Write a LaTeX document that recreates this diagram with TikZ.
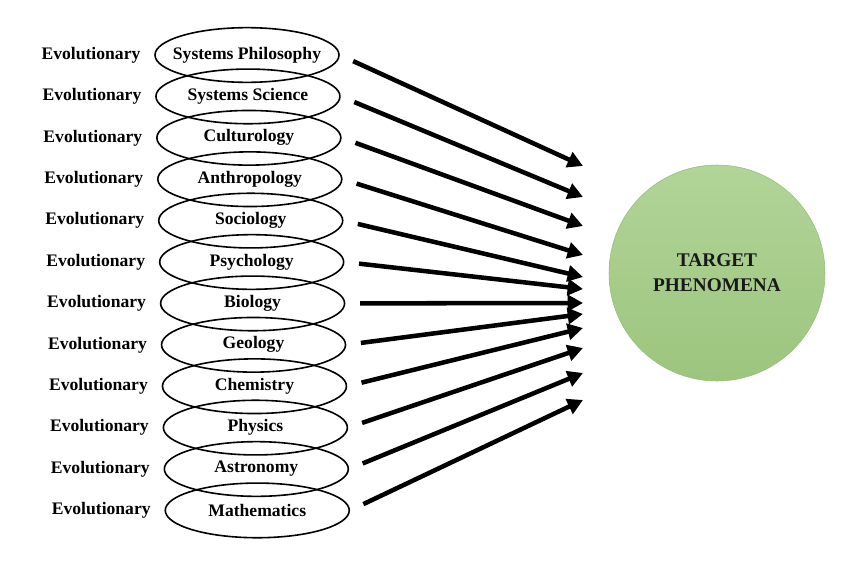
\documentclass[tikz,border=0pt]{standalone}
\usepackage{fontspec}
\setmainfont{Liberation Serif}
\usetikzlibrary{shapes.geometric,arrows.meta}
\definecolor{leaf}{RGB}{178,212,152}
\definecolor{leafdark}{RGB}{156,197,126}
\definecolor{leafline}{RGB}{150,190,120}
\tikzstyle{field}=[draw, ellipse, line width=1.2pt, minimum width=138pt, minimum height=41pt, inner xsep=-25pt, inner ysep=0pt, node distance=31.05pt]
\tikzstyle{evo}=[node distance=117pt]
\tikzstyle{target}=[circle, draw=leafline, top color=leaf, bottom color=leafdark, minimum size=162pt, align=center, text=black!90, font=\bfseries\fontsize{14.5}{18.75}\selectfont]
\tikzstyle{arr}=[->, >={Triangle[length=11.5pt,width=12pt]}, line width=3.4pt, shorten <=11pt]

\begin{document}
\begin{tikzpicture}[x=0.75pt, y=-0.75pt, font=\bfseries\fontsize{13.2}{15}\selectfont]
            \useasboundingbox (0,0) rectangle (850,564);
            \node [field] (e1) at (247,55) {Systems Philosophy};
            \node [field, below of=e1, xshift=0.7pt] (e2) {Systems Science};
            \node [field, below of=e2, xshift=0.7pt] (e3) {Culturology};
            \node [field, below of=e3, xshift=0.7pt] (e4) {Anthropology};
            \node [field, below of=e4, xshift=0.7pt] (e5) {Sociology};
            \node [field, below of=e5, xshift=0.7pt] (e6) {Psychology};
            \node [field, below of=e6, xshift=0.7pt] (e7) {Biology};
            \node [field, below of=e7, xshift=0.7pt] (e8) {Geology};
            \node [field, below of=e8, xshift=0.7pt] (e9) {Chemistry};
            \node [field, below of=e9, xshift=0.7pt] (e10) {Physics};
            \node [field, below of=e10, xshift=0.7pt] (e11) {Astronomy};
            \node [field, below of=e11, xshift=0.7pt] (e12) {Mathematics};
            \node [evo, left of=e1] (v1) {Evolutionary};
            \node [evo, left of=e2] (v2) {Evolutionary};
            \node [evo, left of=e3] (v3) {Evolutionary};
            \node [evo, left of=e4] (v4) {Evolutionary};
            \node [evo, left of=e5] (v5) {Evolutionary};
            \node [evo, left of=e6] (v6) {Evolutionary};
            \node [evo, left of=e7] (v7) {Evolutionary};
            \node [evo, left of=e8] (v8) {Evolutionary};
            \node [evo, left of=e9] (v9) {Evolutionary};
            \node [evo, left of=e10] (v10) {Evolutionary};
            \node [evo, left of=e11] (v11) {Evolutionary};
            \node [evo, left of=e12] (v12) {Evolutionary};
            \node [target] (T) at (717,273) {TARGET\\PHENOMENA};
            \coordinate (t1) at (583,166);
            \coordinate (t2) at (583,197);
            \coordinate (t3) at (583,226);
            \coordinate (t4) at (583,255);
            \coordinate (t5) at (583,277);
            \coordinate (t6) at (583,289);
            \coordinate (t7) at (583,303);
            \coordinate (t8) at (583,314);
            \coordinate (t9) at (583,328);
            \coordinate (t10) at (583,348);
            \coordinate (t11) at (583,373);
            \coordinate (t12) at (583,400);
            \path[arr] (e1.east) edge (t1);
            \path[arr] (e2.east) edge (t2);
            \path[arr] (e3.east) edge (t3);
            \path[arr] (e4.east) edge (t4);
            \path[arr] (e5.east) edge (t5);
            \path[arr] (e6.east) edge (t6);
            \path[arr] (e7.east) edge (t7);
            \path[arr] (e8.east) edge (t8);
            \path[arr] (e9.east) edge (t9);
            \path[arr] (e10.east) edge (t10);
            \path[arr] (e11.east) edge (t11);
            \path[arr] (e12.east) edge (t12);
        \end{tikzpicture}
\end{document}
